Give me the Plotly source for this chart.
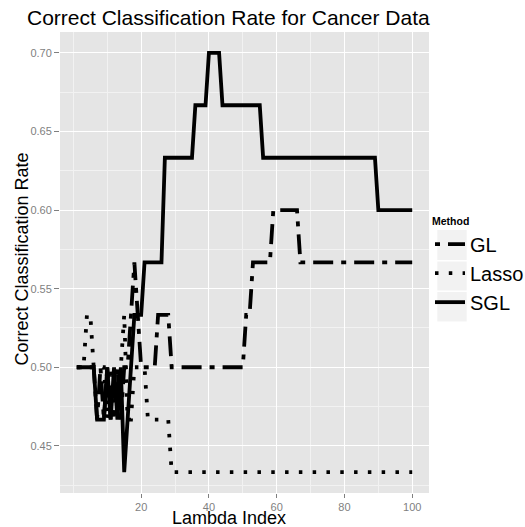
import plotly.graph_objects as go

lambda_index = list(range(1, 101))

sgl = [0.5, 0.5, 0.5, 0.5, 0.5, 0.5, 0.4667, 0.4667, 0.4667, 0.5,
       0.4667, 0.5, 0.4667, 0.5, 0.4333, 0.4667, 0.5, 0.5333, 0.5333, 0.5333,
       0.5667, 0.5667, 0.5667, 0.5667, 0.5667, 0.5667, 0.6333, 0.6333, 0.6333, 0.6333,
       0.6333, 0.6333, 0.6333, 0.6333, 0.6333, 0.6667, 0.6667, 0.6667, 0.6667, 0.7,
       0.7, 0.7, 0.7, 0.6667, 0.6667, 0.6667, 0.6667, 0.6667, 0.6667, 0.6667,
       0.6667, 0.6667, 0.6667, 0.6667, 0.6667, 0.6333, 0.6333, 0.6333, 0.6333, 0.6333,
       0.6333, 0.6333, 0.6333, 0.6333, 0.6333, 0.6333, 0.6333, 0.6333, 0.6333, 0.6333,
       0.6333, 0.6333, 0.6333, 0.6333, 0.6333, 0.6333, 0.6333, 0.6333, 0.6333, 0.6333,
       0.6333, 0.6333, 0.6333, 0.6333, 0.6333, 0.6333, 0.6333, 0.6333, 0.6333, 0.6,
       0.6, 0.6, 0.6, 0.6, 0.6, 0.6, 0.6, 0.6, 0.6, 0.6]

gl = [0.5, 0.5, 0.5, 0.5, 0.5, 0.5, 0.4667, 0.5, 0.4667, 0.5,
      0.4667, 0.4667, 0.5, 0.4667, 0.5, 0.5, 0.5333, 0.5667, 0.5333, 0.5,
      0.5, 0.5, 0.5, 0.5, 0.5333, 0.5333, 0.5333, 0.5333, 0.5, 0.5,
      0.5, 0.5, 0.5, 0.5, 0.5, 0.5, 0.5, 0.5, 0.5, 0.5,
      0.5, 0.5, 0.5, 0.5, 0.5, 0.5, 0.5, 0.5, 0.5, 0.5,
      0.5333, 0.5333, 0.5667, 0.5667, 0.5667, 0.5667, 0.5667, 0.5667, 0.6, 0.6,
      0.6, 0.6, 0.6, 0.6, 0.6, 0.6, 0.5667, 0.5667, 0.5667, 0.5667,
      0.5667, 0.5667, 0.5667, 0.5667, 0.5667, 0.5667, 0.5667, 0.5667, 0.5667, 0.5667,
      0.5667, 0.5667, 0.5667, 0.5667, 0.5667, 0.5667, 0.5667, 0.5667, 0.5667, 0.5667,
      0.5667, 0.5667, 0.5667, 0.5667, 0.5667, 0.5667, 0.5667, 0.5667, 0.5667, 0.5667]

lasso = [0.5, 0.5, 0.5, 0.5333, 0.5333, 0.5, 0.5, 0.5, 0.5, 0.4667,
         0.5, 0.4667, 0.4667, 0.5, 0.5333, 0.4667, 0.4667, 0.5, 0.5, 0.5,
         0.5, 0.4667, 0.4667, 0.4667, 0.4667, 0.4667, 0.4667, 0.4667, 0.4333, 0.4333,
         0.4333, 0.4333, 0.4333, 0.4333, 0.4333, 0.4333, 0.4333, 0.4333, 0.4333, 0.4333,
         0.4333, 0.4333, 0.4333, 0.4333, 0.4333, 0.4333, 0.4333, 0.4333, 0.4333, 0.4333,
         0.4333, 0.4333, 0.4333, 0.4333, 0.4333, 0.4333, 0.4333, 0.4333, 0.4333, 0.4333,
         0.4333, 0.4333, 0.4333, 0.4333, 0.4333, 0.4333, 0.4333, 0.4333, 0.4333, 0.4333,
         0.4333, 0.4333, 0.4333, 0.4333, 0.4333, 0.4333, 0.4333, 0.4333, 0.4333, 0.4333,
         0.4333, 0.4333, 0.4333, 0.4333, 0.4333, 0.4333, 0.4333, 0.4333, 0.4333, 0.4333,
         0.4333, 0.4333, 0.4333, 0.4333, 0.4333, 0.4333, 0.4333, 0.4333, 0.4333, 0.4333]

x_ticks = [20, 40, 60, 80, 100]
x_minor = [0, 10, 30, 50, 70, 90]
y_ticks = [0.45, 0.50, 0.55, 0.60, 0.65, 0.70]
y_tick_labels = ["0.45", "0.50", "0.55", "0.60", "0.65", "0.70"]
y_minor = [0.425, 0.475, 0.525, 0.575, 0.625, 0.675]

FONT = "Liberation Sans, Arial, sans-serif"
LW = 3.8

W, H = 525, 527
ML, MR, MT, MB = 60, W - 429, 32, H - 493
PW, PH = W - ML - MR, H - MT - MB


def px_x(page_x):
    return (page_x - ML) / PW


def px_y(page_y):
    return 1 - (page_y - MT) / PH


fig = go.Figure()
fig.add_trace(go.Scatter(x=lambda_index, y=gl, mode="lines", name="GL", legendgroup="GL",
                         line=dict(color="black", width=LW, dash="5px,8px,20px,8px")))
fig.add_trace(go.Scatter(x=lambda_index, y=lasso, mode="lines", name="Lasso", legendgroup="Lasso",
                         line=dict(color="black", width=LW, dash="3.5px,10.3px")))
fig.add_trace(go.Scatter(x=lambda_index, y=sgl, mode="lines", name="SGL", legendgroup="SGL",
                         line=dict(color="black", width=LW)))

# legend key backgrounds (ggplot-style grey boxes)
key_boxes = [(230, 260), (261.5, 290.5), (292, 321.5)]
shapes = []
for (t, b) in key_boxes:
    shapes.append(dict(type="rect", xref="paper", yref="paper",
                       x0=px_x(437.3), x1=px_x(466.7), y0=px_y(b), y1=px_y(t),
                       fillcolor="#F2F2F2", line=dict(width=0), layer="below"))

annotations = [
    dict(text="Lambda Index", xref="paper", yref="paper",
         x=px_x(229), y=px_y(518), xanchor="center", yanchor="middle",
         showarrow=False, borderpad=0, font=dict(size=18, color="black", family=FONT)),
    dict(text="Correct Classification Rate", xref="paper", yref="paper",
         x=px_x(21.5), y=px_y(259), xanchor="center", yanchor="middle", textangle=-90,
         showarrow=False, font=dict(size=18, color="black", family=FONT)),
]

fig.update_layout(
    width=W, height=H,
    margin=dict(l=ML, r=MR, t=MT, b=MB, autoexpand=False),
    paper_bgcolor="white",
    plot_bgcolor="#E5E5E5",
    font=dict(family=FONT, color="black"),
    title=dict(text="Correct Classification Rate for Cancer Data",
               font=dict(size=21, color="black", family=FONT),
               x=27 / W, xref="container", xanchor="left",
               y=1 - 17.5 / H, yref="container", yanchor="middle"),
    showlegend=True,
    legend=dict(
        title=dict(text="<b>Method</b>", font=dict(size=10.5, family=FONT)),
        font=dict(size=20, family=FONT),
        x=px_x(430), xanchor="left", y=px_y(211), yanchor="top",
        bgcolor="rgba(0,0,0,0)",
        tracegroupgap=0,
    ),
    shapes=shapes,
    annotations=annotations,
)

fig.update_xaxes(
    range=[-3.95, 104.95],
    tickmode="array", tickvals=x_ticks,
    ticks="outside", ticklen=4, tickwidth=1, tickcolor="#7F7F7F",
    tickfont=dict(size=11, color="#7F7F7F", family=FONT),
    showgrid=True, gridcolor="white", gridwidth=1.2,
    minor=dict(tickmode="array", tickvals=x_minor, showgrid=True,
               gridcolor="#F2F2F2", gridwidth=0.6, ticks=""),
    zeroline=False, showline=False,
    automargin=False,
)
fig.update_yaxes(
    range=[0.42, 0.7133],
    tickmode="array", tickvals=y_ticks, ticktext=y_tick_labels,
    ticks="outside", ticklen=5, tickwidth=1, tickcolor="#7F7F7F",
    tickfont=dict(size=11, color="#7F7F7F", family=FONT),
    showgrid=True, gridcolor="white", gridwidth=1.2,
    minor=dict(tickmode="array", tickvals=y_minor, showgrid=True,
               gridcolor="#F2F2F2", gridwidth=0.6, ticks=""),
    zeroline=False, showline=False,
    automargin=False,
)

fig.write_html("out.html", config={"displayModeBar": False},
               post_script="document.body.style.margin='0px';")
